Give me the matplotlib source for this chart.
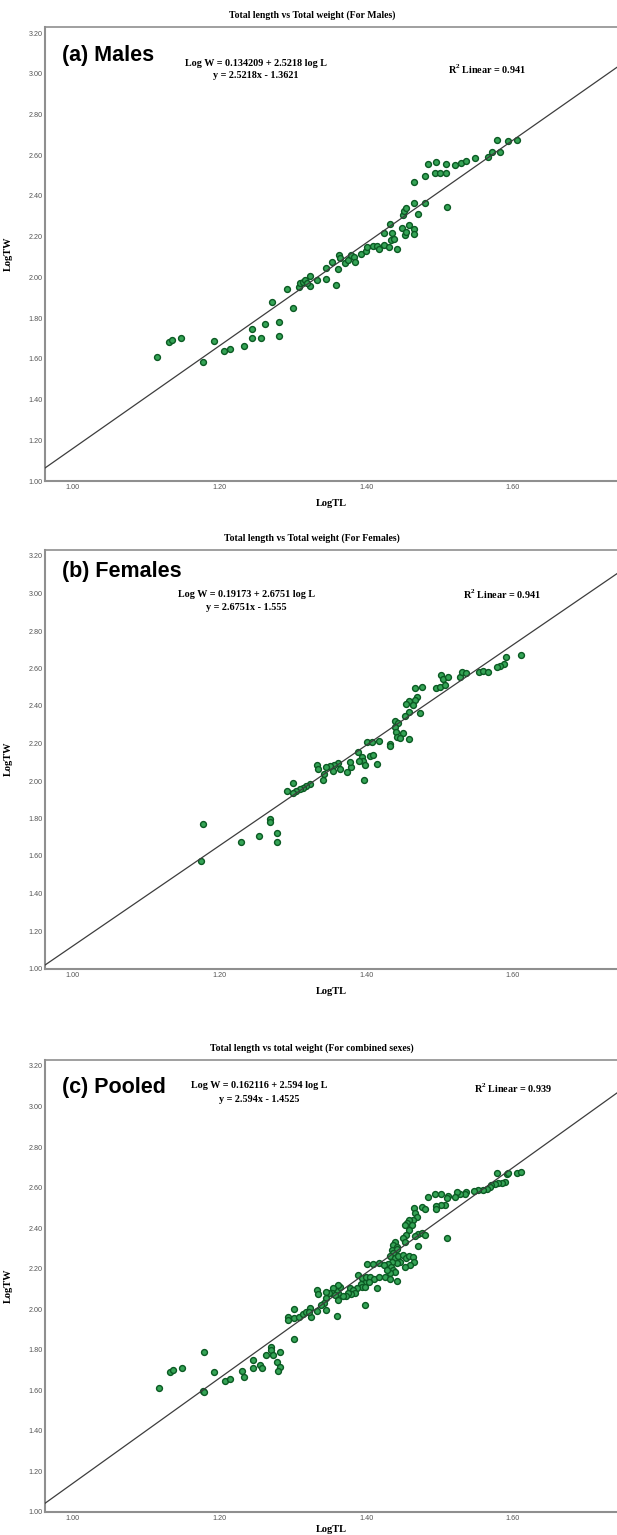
import matplotlib
matplotlib.use("Agg")
import matplotlib.pyplot as plt
from matplotlib.ticker import FixedLocator, FormatStrFormatter

plt.rcParams['mathtext.fontset'] = 'custom'
plt.rcParams['mathtext.rm'] = 'Liberation Serif:bold'
plt.rcParams['mathtext.bf'] = 'Liberation Serif:bold'

# ---------------- data ----------------
males_logtl = [1.115, 1.131, 1.135, 1.148, 1.178, 1.192, 1.206, 1.214, 1.233, 1.245,
               1.245, 1.257, 1.262, 1.281, 1.281, 1.272, 1.301, 1.292, 1.308, 1.310,
               1.314, 1.317, 1.323, 1.324, 1.319, 1.333, 1.345, 1.345, 1.354, 1.359,
               1.362, 1.363, 1.365, 1.371, 1.376, 1.379, 1.383, 1.385, 1.393, 1.400,
               1.401, 1.409, 1.415, 1.418, 1.424, 1.431, 1.442, 1.424, 1.433, 1.435,
               1.434, 1.438, 1.449, 1.453, 1.455, 1.458, 1.465, 1.465, 1.450, 1.452,
               1.455, 1.465, 1.471, 1.480, 1.511, 1.465, 1.480, 1.485, 1.495, 1.509,
               1.494, 1.501, 1.509, 1.522, 1.530, 1.537, 1.548, 1.567, 1.572, 1.583,
               1.578, 1.594, 1.606]
males_logtw = [1.607, 1.684, 1.692, 1.703, 1.584, 1.686, 1.638, 1.646, 1.663, 1.745,
               1.703, 1.703, 1.769, 1.782, 1.712, 1.879, 1.849, 1.944, 1.954, 1.971,
               1.976, 1.987, 2.006, 1.959, 1.971, 1.985, 1.990, 2.047, 2.077, 1.964,
               2.042, 2.110, 2.093, 2.072, 2.085, 2.110, 2.098, 2.077, 2.115, 2.129,
               2.147, 2.155, 2.154, 2.141, 2.157, 2.147, 2.138, 2.216, 2.260, 2.216,
               2.183, 2.188, 2.244, 2.208, 2.224, 2.257, 2.236, 2.213, 2.306, 2.327,
               2.339, 2.364, 2.311, 2.367, 2.347, 2.467, 2.498, 2.557, 2.566, 2.555,
               2.511, 2.511, 2.511, 2.552, 2.563, 2.573, 2.585, 2.592, 2.617, 2.617,
               2.674, 2.670, 2.674]

females_logtl = [1.611, 1.591, 1.588, 1.583, 1.578, 1.554, 1.560, 1.567, 1.528, 1.531,
                 1.536, 1.502, 1.505, 1.512, 1.495, 1.501, 1.508, 1.467, 1.476, 1.469,
                 1.467, 1.458, 1.455, 1.464, 1.458, 1.453, 1.474, 1.439, 1.443, 1.439,
                 1.441, 1.442, 1.450, 1.446, 1.459, 1.432, 1.433, 1.401, 1.408, 1.417,
                 1.389, 1.394, 1.396, 1.399, 1.391, 1.405, 1.409, 1.415, 1.397, 1.374,
                 1.380, 1.378, 1.364, 1.362, 1.356, 1.355, 1.351, 1.345, 1.333, 1.335,
                 1.343, 1.341, 1.323, 1.318, 1.314, 1.310, 1.305, 1.301, 1.301, 1.292,
                 1.269, 1.269, 1.278, 1.278, 1.254, 1.229, 1.178, 1.175]
females_logtw = [2.674, 2.663, 2.624, 2.615, 2.610, 2.583, 2.588, 2.583, 2.556, 2.580,
                 2.574, 2.567, 2.542, 2.553, 2.494, 2.503, 2.512, 2.494, 2.500, 2.450,
                 2.432, 2.427, 2.411, 2.405, 2.370, 2.347, 2.364, 2.322, 2.311, 2.290,
                 2.263, 2.236, 2.258, 2.228, 2.224, 2.197, 2.187, 2.210, 2.206, 2.215,
                 2.156, 2.130, 2.108, 2.085, 2.108, 2.133, 2.139, 2.089, 2.007, 2.050,
                 2.076, 2.103, 2.062, 2.094, 2.085, 2.055, 2.080, 2.076, 2.085, 2.062,
                 2.036, 2.005, 1.984, 1.973, 1.964, 1.957, 1.948, 1.938, 1.988, 1.948,
                 1.797, 1.783, 1.724, 1.676, 1.707, 1.676, 1.771, 1.575]

pooled_logtl = [1.117, 1.133, 1.136, 1.149, 1.179, 1.177, 1.179, 1.193, 1.207, 1.215,
                1.231, 1.234, 1.246, 1.246, 1.255, 1.258, 1.263, 1.270, 1.271, 1.273,
                1.279, 1.282, 1.282, 1.280, 1.302, 1.294, 1.294, 1.302, 1.302, 1.309,
                1.314, 1.318, 1.323, 1.325, 1.322, 1.333, 1.345, 1.360,
                1.606, 1.612, 1.579, 1.592, 1.594, 1.590, 1.585, 1.580, 1.576, 1.571,
                1.569, 1.565, 1.560, 1.553, 1.547, 1.537, 1.535, 1.528, 1.524, 1.521,
                1.512, 1.510, 1.508, 1.502, 1.496, 1.495, 1.502, 1.494, 1.485, 1.511,
                1.476, 1.480, 1.465, 1.467, 1.469, 1.464, 1.459, 1.456, 1.462, 1.453,
                1.458, 1.455, 1.451, 1.453, 1.471, 1.476, 1.480, 1.467, 1.439, 1.437,
                1.442, 1.436, 1.442, 1.437, 1.433, 1.471, 1.439, 1.444, 1.451, 1.455,
                1.458, 1.464, 1.465, 1.460, 1.453, 1.446, 1.442, 1.435, 1.430, 1.434,
                1.437, 1.439, 1.433, 1.401, 1.410, 1.417, 1.424, 1.428, 1.442, 1.389,
                1.394, 1.400, 1.406, 1.411, 1.417, 1.426, 1.432, 1.415, 1.399, 1.404,
                1.393, 1.395, 1.388, 1.399, 1.398, 1.378, 1.382, 1.385, 1.380, 1.376,
                1.373, 1.368, 1.362, 1.360, 1.364, 1.362, 1.355, 1.354, 1.358, 1.349,
                1.345, 1.333, 1.335, 1.345, 1.343, 1.339, 1.362]
pooled_logtw = [1.613, 1.692, 1.702, 1.709, 1.788, 1.597, 1.590, 1.692, 1.644, 1.654,
                1.697, 1.667, 1.750, 1.709, 1.725, 1.709, 1.773, 1.815, 1.799, 1.773,
                1.741, 1.788, 1.717, 1.695, 1.853, 1.963, 1.947, 2.001, 1.955, 1.963,
                1.977, 1.985, 2.004, 1.960, 1.988, 1.991, 1.996, 1.968,
                2.674, 2.676, 2.674, 2.666, 2.671, 2.626, 2.621, 2.621, 2.618, 2.613,
                2.605, 2.592, 2.588, 2.588, 2.585, 2.580, 2.569, 2.569, 2.580, 2.552,
                2.559, 2.547, 2.514, 2.514, 2.509, 2.496, 2.569, 2.569, 2.555, 2.350,
                2.506, 2.496, 2.498, 2.473, 2.457, 2.440, 2.440, 2.427, 2.416, 2.416,
                2.391, 2.366, 2.350, 2.333, 2.371, 2.375, 2.366, 2.361, 2.333, 2.317,
                2.309, 2.292, 2.296, 2.276, 2.264, 2.312, 2.251, 2.263, 2.268, 2.251,
                2.263, 2.256, 2.235, 2.218, 2.210, 2.235, 2.227, 2.235, 2.223, 2.210,
                2.194, 2.185, 2.180, 2.223, 2.223, 2.227, 2.218, 2.194, 2.139, 2.169,
                2.153, 2.161, 2.161, 2.149, 2.157, 2.161, 2.149, 2.103, 2.128, 2.136,
                2.124, 2.111, 2.103, 2.111, 2.021, 2.103, 2.095, 2.079, 2.075, 2.079,
                2.067, 2.065, 2.079, 2.095, 2.111, 2.120, 2.103, 2.079, 2.070, 2.079,
                2.087, 2.095, 2.074, 2.054, 2.032, 2.021, 2.046]

titles = ["Total length vs Total weight (For Males)",
          "Total length vs Total weight (For Females)",
          "Total length vs total weight (For combined sexes)"]
panel_labels = ["(a) Males", "(b) Females", "(c) Pooled"]
eq_line1 = ["Log W = 0.134209 + 2.5218 log L",
            "Log W = 0.19173 + 2.6751 log L",
            "Log W = 0.162116 + 2.594 log L"]
eq_line2 = ["y = 2.5218x - 1.3621",
            "y = 2.6751x - 1.555",
            "y = 2.594x - 1.4525"]
slopes = [2.5218, 2.6751, 2.594]
intercepts = [-1.3621, -1.555, -1.4525]
r2_values = ["0.941", "0.941", "0.939"]
x_ticks = [1.00, 1.20, 1.40, 1.60]
y_ticks = [1.00, 1.20, 1.40, 1.60, 1.80, 2.00, 2.20, 2.40, 2.60, 2.80, 3.00, 3.20]
x_label = "LogTL"
y_label = "LogTW"

xs = [males_logtl, females_logtl, pooled_logtl]
ys = [males_logtw, females_logtw, pooled_logtw]

# ---------------- layout (pixels) ----------------
W, H = 617, 1535
SERIF = "Liberation Serif"
SANS = "Liberation Sans"
left_px = 45
x_lo = 0.962
x_scale = 733.0  # px per unit
x_hi = x_lo + (W - left_px) / x_scale

panels = [
    dict(spine=27, t32=33, t10=481, title_y=15, lab_y=55, eq_x=256, eq_y1=64, eq_y2=76,
         r2_x=487, r2_y=69, xl_y=503),
    dict(spine=550, t32=556, t10=968.5, title_y=538, lab_y=571, eq_x=246, eq_y1=595, eq_y2=607,
         r2_x=502, r2_y=594, xl_y=991),
    dict(spine=1060, t32=1066, t10=1512, title_y=1048, lab_y=1087, eq_x=259, eq_y1=1086, eq_y2=1099,
         r2_x=513, r2_y=1088, xl_y=1530),
]

fig = plt.figure(figsize=(W / 100, H / 100), dpi=100)
fig.patch.set_facecolor("white")

def fx(px):
    return px / W

def fy(py):
    return 1 - py / H

spine_col = "#8f8f8f"
for i, p in enumerate(panels):
    yscale = (p["t10"] - p["t32"]) / 2.2
    y_hi = 3.2 + (p["t32"] - p["spine"]) / yscale
    ax = fig.add_axes([fx(left_px), fy(p["t10"]), fx(W - left_px), (p["t10"] - p["spine"]) / H])
    ax.set_xlim(x_lo, x_hi)
    ax.set_ylim(1.0, y_hi)
    ax.scatter(xs[i], ys[i], s=18, facecolor="#35a456", edgecolor="#0b5a23",
               linewidths=1.0, zorder=3)
    lx = [x_lo, x_hi]
    ly = [slopes[i] * v + intercepts[i] for v in lx]
    ax.plot(lx, ly, color="#3d3d3d", lw=0.9, zorder=4)

    ax.xaxis.set_major_locator(FixedLocator(x_ticks))
    ax.yaxis.set_major_locator(FixedLocator(y_ticks))
    ax.xaxis.set_major_formatter(FormatStrFormatter("%.2f"))
    ax.yaxis.set_major_formatter(FormatStrFormatter("%.2f"))
    ax.tick_params(axis="both", length=0, labelsize=5.2, labelcolor="#555555")
    ax.tick_params(axis="y", pad=1.5)
    ax.tick_params(axis="x", pad=2.5)
    for lab in ax.get_xticklabels() + ax.get_yticklabels():
        lab.set_family(SANS)
    for s in ["left", "bottom"]:
        ax.spines[s].set_color(spine_col)
        ax.spines[s].set_linewidth(1.5)
    ax.spines["top"].set_color(spine_col)
    ax.spines["top"].set_linewidth(1.2)
    ax.spines["right"].set_visible(False)

    fig.text(fx(312), fy(p["title_y"]), titles[i], ha="center", va="center",
             family=SERIF, fontweight="bold", fontsize=7)
    fig.text(fx(62), fy(p["lab_y"]), panel_labels[i], ha="left", va="center",
             family=SANS, fontweight="bold", fontsize=15.5)
    fig.text(fx(p["eq_x"]), fy(p["eq_y1"]), eq_line1[i], ha="center", va="center",
             family=SERIF, fontweight="bold", fontsize=7.3)
    fig.text(fx(p["eq_x"]), fy(p["eq_y2"]), eq_line2[i], ha="center", va="center",
             family=SERIF, fontweight="bold", fontsize=7.3)
    fig.text(fx(p["r2_x"]), fy(p["r2_y"]), r"R$^{2}$ Linear = " + r2_values[i],
             ha="center", va="center", family=SERIF, fontweight="bold", fontsize=7.3)
    fig.text(fx(331), fy(p["xl_y"]), x_label, ha="center", va="center",
             family=SERIF, fontweight="bold", fontsize=7.5)
    fig.text(fx(8), fy((p["spine"] + p["t10"]) / 2), y_label, ha="center", va="center",
             rotation=90, family=SERIF, fontweight="bold", fontsize=7.5)

fig.savefig("out.png", dpi=100, facecolor="white")
